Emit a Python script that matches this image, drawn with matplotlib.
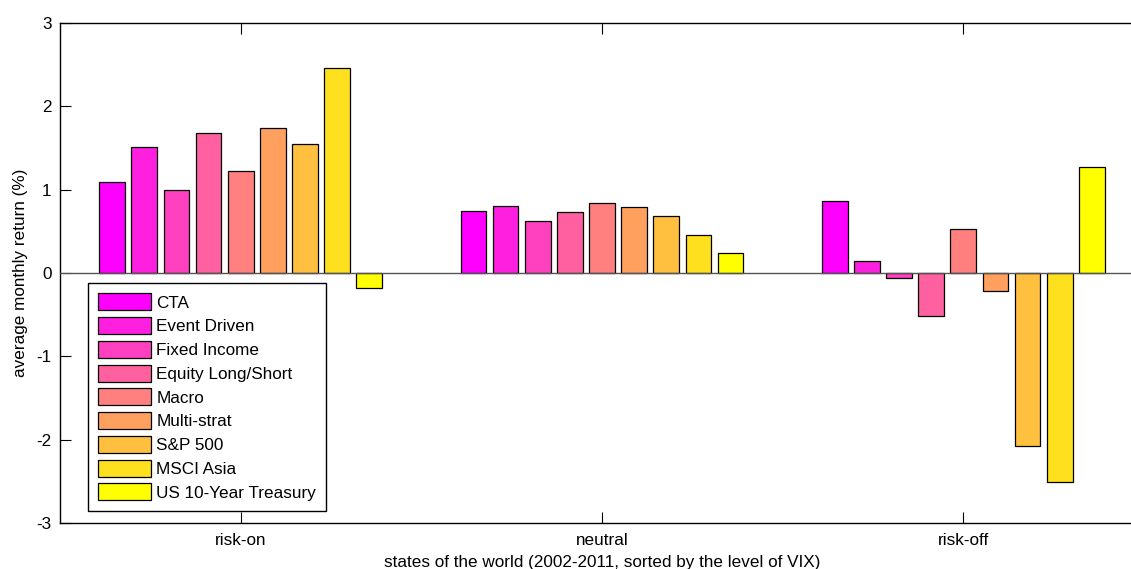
import numpy as np
import matplotlib
matplotlib.use("Agg")
import matplotlib.pyplot as plt

plt.rcParams['font.family'] = ['Liberation Sans', 'DejaVu Sans']
plt.rcParams['font.size'] = 12.3
plt.rcParams['axes.unicode_minus'] = False

states = ['risk-on', 'neutral', 'risk-off']
assets = ['CTA', 'Event Driven', 'Fixed Income', 'Equity Long/Short', 'Macro',
          'Multi-strat', 'S&P 500', 'MSCI Asia', 'US 10-Year Treasury']

# average monthly return (%) per asset, one list per state
risk_on = [1.09, 1.51, 1.00, 1.68, 1.23, 1.74, 1.55, 2.46, -0.18]
neutral = [0.75, 0.81, 0.63, 0.73, 0.84, 0.79, 0.68, 0.46, 0.24]
risk_off = [0.86, 0.14, -0.06, -0.51, 0.53, -0.22, -2.08, -2.51, 1.27]

returns = np.array([risk_on, neutral, risk_off])
n_states, n_assets = returns.shape

colors = plt.cm.spring(np.linspace(0, 1, n_assets))

fig = plt.figure(figsize=(11.31, 5.69), dpi=100)
# axes spills past the right edge of the figure
ax = fig.add_axes([60 / 1131, 1 - 523 / 569, 1084 / 1131, 500 / 569])

x = np.arange(1, n_states + 1)
slot = 0.8 / n_assets
for i in range(n_assets):
    ax.bar(x + (i - (n_assets - 1) / 2) * slot, returns[:, i], width=slot * 0.8,
           color=colors[i], edgecolor='black', linewidth=0.9, label=assets[i], zorder=2)

ax.axhline(0, color='#555555', linewidth=1.0, zorder=3)

ax.set_xlim(0.5, 3.5)
ax.set_ylim(-3, 3)
ax.set_xticks(x)
ax.set_xticklabels(states)
ax.set_yticks(range(-3, 4))
ax.tick_params(direction='in', length=8, width=0.8, top=True, right=True)
ax.tick_params(axis='x', pad=7)
ax.tick_params(axis='y', pad=6)
for s in ax.spines.values():
    s.set_linewidth(1.0)

ax.set_xlabel('states of the world (2002-2011, sorted by the level of VIX)', labelpad=5)
ax.set_ylabel('average monthly return (%)', labelpad=6)

leg = ax.legend(loc='lower left', bbox_to_anchor=(28 / 1084, 12 / 500), borderaxespad=0,
                fancybox=False, framealpha=1, edgecolor='black', handlelength=3.1,
                handleheight=1.15, handletextpad=0.3, labelspacing=0.38, borderpad=0.6)
leg.get_frame().set_linewidth(1.0)

fig.savefig('out.png', dpi=100)
